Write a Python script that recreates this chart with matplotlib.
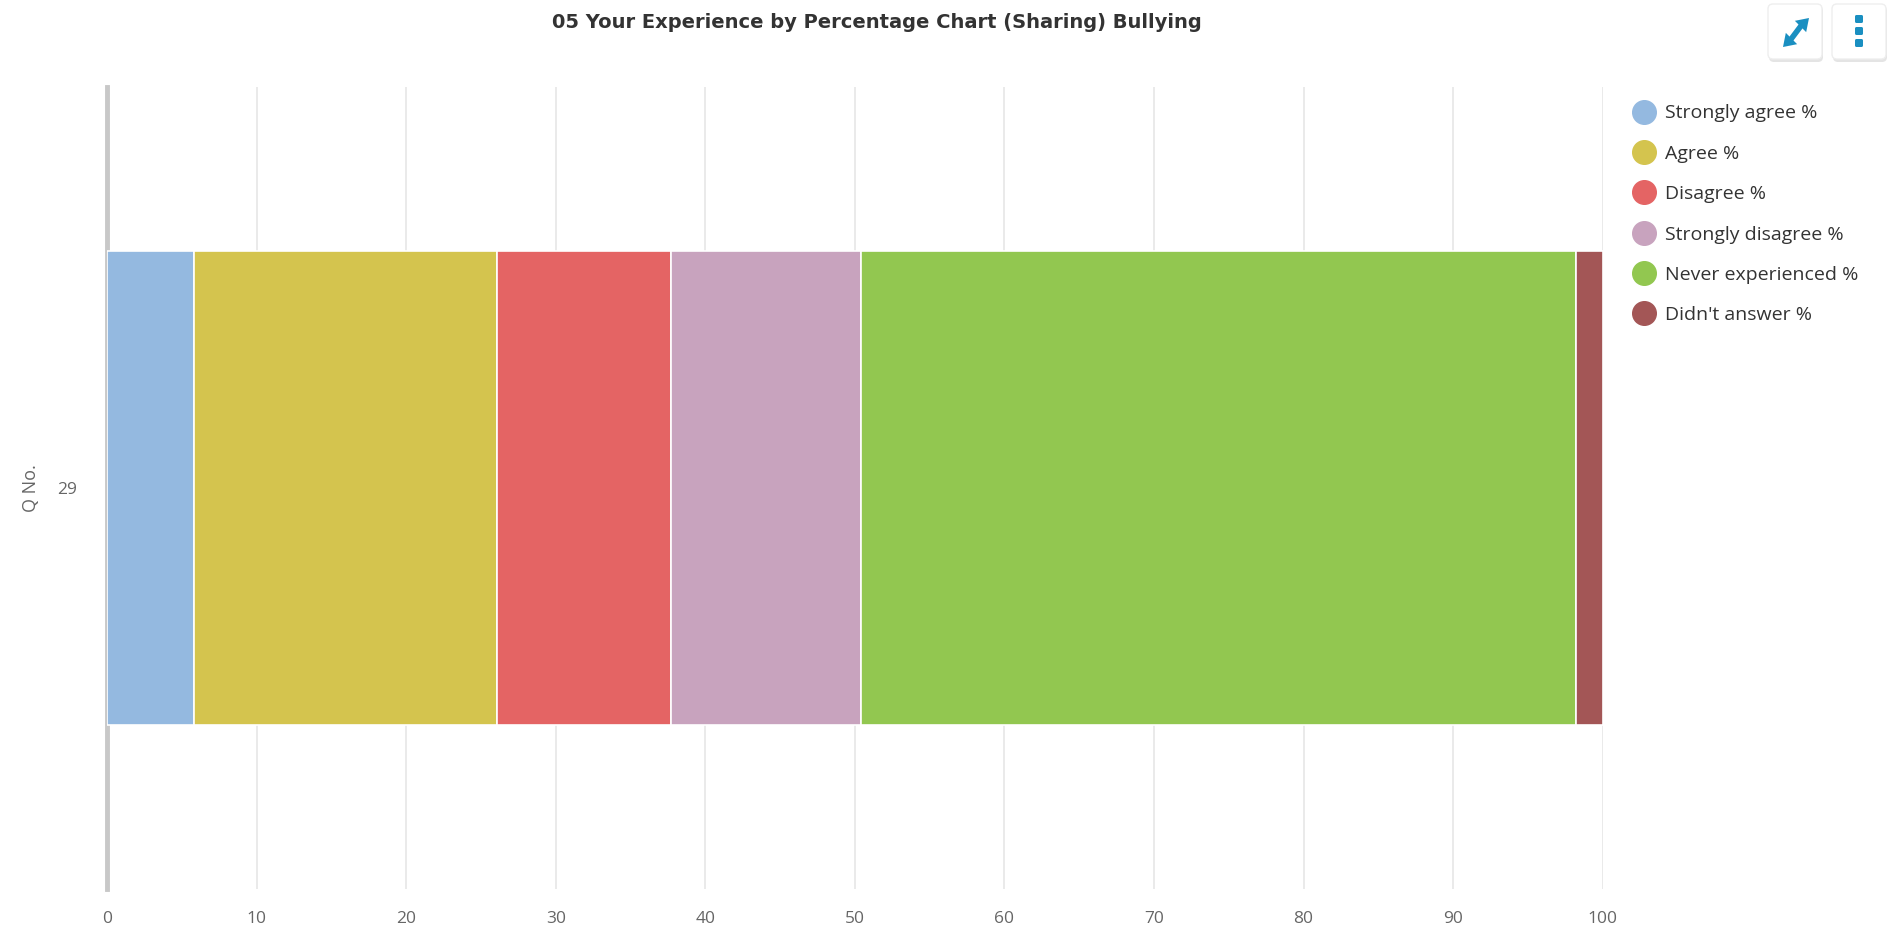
import numpy as np
import matplotlib.pyplot as plt
from matplotlib.lines import Line2D
from matplotlib.patches import FancyBboxPatch, Polygon

# dados
questoes = ['29']
categorias = ['Strongly agree %', 'Agree %', 'Disagree %',
              'Strongly disagree %', 'Never experienced %', "Didn't answer %"]
valores = [5.8, 20.3, 11.6, 12.7, 47.8, 1.8]
cores = ['#94B9E0', '#D4C44E', '#E46464', '#C8A3BE', '#92C750', '#A35656']
ticks_x = [0, 10, 20, 30, 40, 50, 60, 70, 80, 90, 100]

plt.rcParams['font.family'] = ['Open Sans', 'DejaVu Sans']

fig = plt.figure(figsize=(18.92, 9.33), dpi=100)
ax = fig.add_axes([0.0566, 0.0472, 0.7905, 0.8596])

esquerda = 0
for cat, v, c in zip(categorias, valores, cores):
    ax.barh(questoes, [v], left=esquerda, height=0.59, color=c,
            edgecolor='white', linewidth=1.2, label=cat, zorder=3)
    esquerda += v

ax.set_xlim(0, 100)
ax.set_ylim(-0.5, 0.5)
ax.set_xticks(ticks_x)
ax.grid(axis='x', color='#e6e6e6', linewidth=1.2, zorder=0)
ax.tick_params(axis='x', length=0, pad=16, labelsize=12.5, labelcolor='#666666')
ax.tick_params(axis='y', length=0, pad=22, labelsize=12.5, labelcolor='#666666')
for lado in ['top', 'right', 'bottom']:
    ax.spines[lado].set_visible(False)
ax.spines['left'].set_color('#c8c8c8')
ax.spines['left'].set_linewidth(3.5)
ax.set_ylabel('Q No.', fontsize=13, color='#666666', labelpad=12)

# titulo
fig.text(0.4635, 0.976, '05 Your Experience by Percentage Chart (Sharing) Bullying',
         ha='center', va='center', fontsize=14, fontweight='bold', color='#333333',
         family=['Liberation Sans Narrow', 'DejaVu Sans'])

# legenda
handles = [Line2D([], [], marker='o', linestyle='none', markersize=17,
                  markerfacecolor=c, markeredgecolor=c) for c in cores]
fig.legend(handles, categorias, loc='upper left', bbox_to_anchor=(0.8635, 0.888),
           frameon=False, fontsize=14, labelspacing=1.15, handletextpad=0.5,
           labelcolor='#333333', handlelength=1.1, borderaxespad=0, borderpad=0)

# botoes (expandir e menu)
for x0 in [1768, 1832]:
    sombra = FancyBboxPatch((x0 + 1, 933 - 62), 54, 56, transform=None,
                            boxstyle='round,pad=0,rounding_size=5',
                            facecolor='#e4e4e4', edgecolor='none')
    caixa = FancyBboxPatch((x0, 933 - 59), 54, 55, transform=None,
                           boxstyle='round,pad=0,rounding_size=5',
                           facecolor='white', edgecolor='#eeeeee', linewidth=1)
    fig.patches.append(sombra)
    fig.patches.append(caixa)

azul = '#1a8fc1'
d = np.array([1.0, 1.0]) / np.sqrt(2)
n = np.array([-1.0, 1.0]) / np.sqrt(2)
pontas = [np.array([1809.0, 915.0]), np.array([1783.0, 886.0])]
bases = []
for ponta, sinal in zip(pontas, [1, -1]):
    base = ponta - sinal * 12 * d
    bases.append(base)
    tri = Polygon([ponta, base + 8 * n, base - 8 * n], closed=True,
                  transform=None, facecolor=azul, edgecolor='none')
    fig.patches.append(tri)
fig.lines.append(Line2D([bases[0][0], bases[1][0]], [bases[0][1], bases[1][1]],
                        transform=None, color=azul, linewidth=4))
for yy in [19, 31, 43]:
    fig.patches.append(FancyBboxPatch((1855, 933 - yy - 4), 8, 8, transform=None,
                                      boxstyle='round,pad=0,rounding_size=1.5',
                                      facecolor=azul, edgecolor='none'))

fig.savefig('out.png', dpi=100)
